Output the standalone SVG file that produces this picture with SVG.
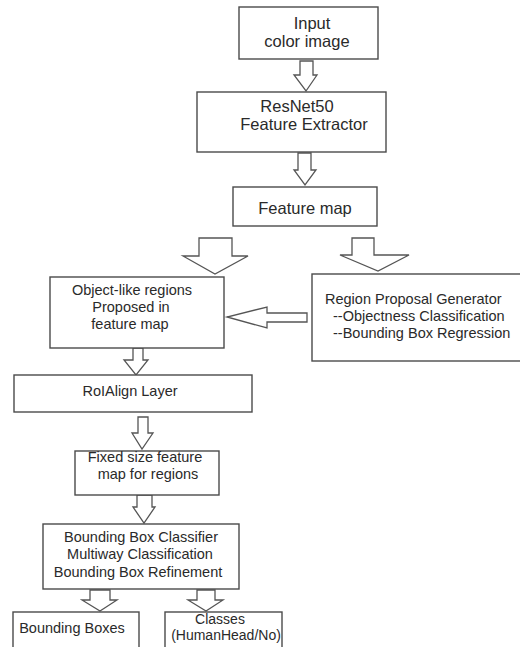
<svg xmlns="http://www.w3.org/2000/svg" width="520" height="647" viewBox="0 0 520 647">
<style>
.box{fill:#fff;stroke:#4a4a4a;stroke-width:1.4}
.arr{fill:#fff;stroke:#555;stroke-width:1.3;stroke-linejoin:miter}
text{font-family:"Liberation Sans",Arial,sans-serif;fill:#2a2a2a}
.big{font-size:16.5px}
.sm{font-size:14.5px}
.xs{font-size:14px}
.c{text-anchor:middle}
</style>
<rect width="520" height="647" fill="#fff"/>
<g id="connectors">
<polygon class="arr" points="300,61 313,61 313,75 317,75 306,91 294,75 300,75"/>
<polygon class="arr" points="298,153 311,153 311,170 316,170 305,185 294,170 298,170"/>
<polygon class="arr" points="199,238 232,238 232,256 248,256 215,274 183,256 199,256"/>
<polygon class="arr" points="352,238 374,238 374,255 409,255 378,271 340,255 352,255"/>
<polygon class="arr" points="307,313 307,322 267,322 267,328 227,317 267,307 267,313"/>
<polygon class="arr" points="133,348 143,348 143,360 148,360 136,375 124,360 133,360"/>
<polygon class="arr" points="138,417 148,417 148,433 153,433 142,449 132,433 138,433"/>
<polygon class="arr" points="137,495 152,495 152,507 155,507 144,523 133,507 137,507"/>
<polygon class="arr" points="90,590 110,590 110,600 117,600 100,611 82,600 90,600"/>
<polygon class="arr" points="197,590 215,590 215,600 223,600 206,611 188,600 197,600"/>
</g>
<g id="input">
<rect class="box" x="239" y="7" width="139" height="52"/>
<text class="big c" x="312" y="29">Input</text>
<text class="big c" x="307" y="47">color image</text>
</g>
<g id="resnet">
<rect class="box" x="197" y="92" width="189" height="60"/>
<text class="big c" x="297" y="112">ResNet50</text>
<text class="big c" x="304" y="130">Feature Extractor</text>
</g>
<g id="featuremap">
<rect class="box" x="233" y="187" width="144" height="39"/>
<text class="big c" x="305" y="214">Feature map</text>
</g>
<g id="objectregions">
<rect class="box" x="50" y="277" width="174" height="71"/>
<text class="sm c" x="132" y="295">Object-like regions</text>
<text class="sm c" x="131" y="312">Proposed in</text>
<text class="sm c" x="130" y="329">feature map</text>
</g>
<g id="rpn">
<rect class="box" x="312" y="274" width="212" height="87"/>
<text class="sm" x="325" y="304">Region Proposal Generator</text>
<text class="sm" x="333" y="321">--Objectness Classification</text>
<text class="sm" x="333" y="338">--Bounding Box Regression</text>
</g>
<g id="roialign">
<rect class="box" x="14" y="375" width="238" height="37"/>
<text class="sm c" x="130" y="396">RoIAlign Layer</text>
</g>
<g id="fixedsize">
<rect class="box" x="75" y="451" width="144" height="44"/>
<text class="sm c" x="145" y="462">Fixed size feature</text>
<text class="sm c" x="148" y="479">map for regions</text>
</g>
<g id="classifier">
<rect class="box" x="43" y="524" width="196" height="65"/>
<text class="sm c" x="141" y="542">Bounding Box Classifier</text>
<text class="sm c" x="140" y="559">Multiway Classification</text>
<text class="sm c" x="138" y="577">Bounding Box Refinement</text>
</g>
<g id="boundingboxes">
<rect class="box" x="13" y="612" width="126" height="48"/>
<text class="sm c" x="72" y="633">Bounding Boxes</text>
</g>
<g id="classes">
<rect class="box" x="165" y="612" width="117" height="48"/>
<text class="xs c" x="220" y="624">Classes</text>
<text class="xs c" x="226" y="640">(HumanHead/No)</text>
</g>
</svg>
